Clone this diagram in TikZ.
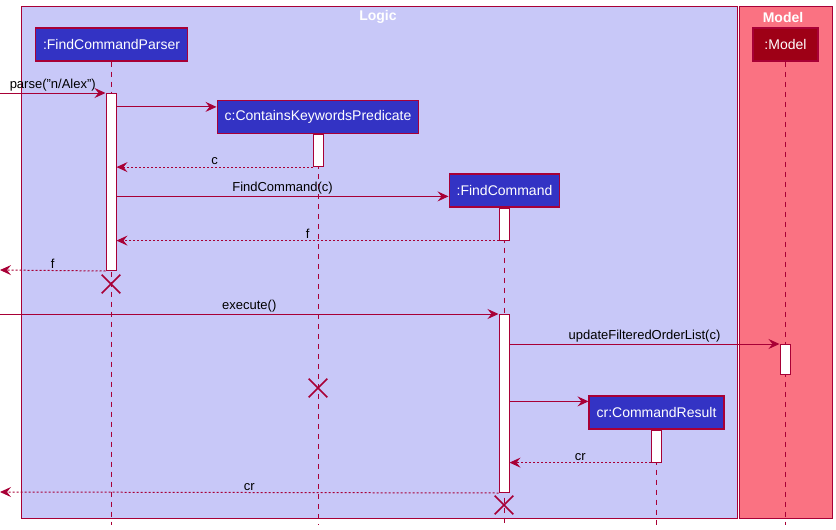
\documentclass[tikz,border=0pt]{standalone}
\usepackage{fontspec}
\setmainfont{Liberation Sans}
\usetikzlibrary{arrows.meta, positioning, shapes.misc}
\definecolor{umlred}{RGB}{168,0,54}
\definecolor{logicbg}{RGB}{200,200,248}
\definecolor{modelbg}{RGB}{250,114,130}
\definecolor{objblue}{RGB}{51,51,196}
\definecolor{objred}{RGB}{158,0,22}
\tikzset{
    frame/.style={draw=umlred, line width=1pt},
    frametitle/.style={text=white, font=\fontsize{14}{16}\selectfont\bfseries, inner sep=0pt},
    obj/.style={draw=umlred, fill=objblue, text=white, line width=1.2pt,
        font=\fontsize{14}{16}\selectfont, minimum height=33pt, inner xsep=7.5pt},
    lifeline/.style={draw=umlred, line width=1pt, dash pattern=on 5pt off 5pt},
    act/.style={draw=umlred, fill=white, line width=1pt, rectangle, anchor=north,
        minimum width=10pt, inner sep=0pt},
    msg/.style={draw=umlred, line width=1pt, -{Stealth[length=11pt, width=10pt, inset=4pt]}},
    ret/.style={msg, dash pattern=on 2pt off 2pt},
    lbl/.style={above, text=black, inner sep=1.5pt, font=\fontsize{13}{15}\selectfont},
    destroy/.style={cross out, draw=umlred, line width=1.6pt, minimum size=17pt, inner sep=0pt}
}
\begin{document}
\begin{tikzpicture}[x=1pt, y=-1pt]
    \useasboundingbox (0,0) rectangle (836,530);
    \coordinate (bottom) at (0,525);
    % boxes
    \filldraw[frame, fill=logicbg] (21,6) rectangle (737,518);
    \filldraw[frame, fill=modelbg] (739,6) rectangle (832,518);
    \node[frametitle] (logicT) at (378,17) {Logic};
    \node[frametitle] (modelT) at (783,17) {Model};
    % participants
    \node[obj] (parser) at (111.5,44.5) {:FindCommandParser};
    \node[obj, fill=objred, minimum width=65pt] (model) at (785.5,44.5) {:Model};
    \node[obj] (pred) at (318,117) {c:ContainsKeywordsPredicate};
    \node[obj] (fc) at (504.5,190.5) {:FindCommand};
    \node[obj] (cr) at (656.5,412.5) {cr:CommandResult};
    \foreach \p in {parser, model, pred, fc, cr}
        \draw[lifeline] (\p.south) -- (\p.south |- bottom);
    % activations
    \node[act, minimum height=177pt] (aP) at (111,93) {};
    \node[act, minimum height=32pt] (aK) at (pred.south) {};
    \node[act, minimum height=32pt] (aF1) at (fc.south) {};
    \node[act, minimum height=178pt] (aF2) at (504,314) {};
    \node[act, minimum height=30pt] (aM) at (785,344) {};
    \node[act, minimum height=32pt] (aR) at (cr.south) {};
    % free ends
    \coordinate (inP) at (0,93);
    \coordinate (outF) at (0,270);
    \coordinate (inE) at (0,314);
    \coordinate (outR) at (0,492);
    \coordinate (mK) at ([yshift=-7pt]pred.north west);
    \coordinate (mF) at ([yshift=-23pt]fc.north west);
    \coordinate (mR) at ([yshift=-6pt]cr.north west);
    % messages
    \draw[msg] (inP) -- node[lbl]{parse("n/Alex")} (aP.north west);
    \draw[msg] (aP.east |- mK) -- (mK);
    \draw[ret] (aK.south west) -- node[lbl]{c} (aP.east |- aK.south);
    \draw[msg] (aP.east |- mF) -- node[lbl]{FindCommand(c)} (mF);
    \draw[ret] (aF1.south west) -- node[lbl]{f} (aP.east |- aF1.south);
    \draw[ret] (aP.south west) -- node[lbl]{f} (outF);
    \node[destroy] (xP) at (111,284) {};
    \draw[msg] (inE) -- node[lbl]{execute()} (aF2.north west);
    \draw[msg] (aF2.north east |- aM.north) -- node[lbl]{updateFilteredOrderList(c)} (aM.north west);
    \node[destroy] (xK) at (318,388) {};
    \draw[msg] (aF2.east |- mR) -- (mR);
    \draw[ret] (aR.south west) -- node[lbl]{cr} (aF2.east |- aR.south);
    \draw[ret] (aF2.south west) -- node[lbl]{cr} (outR);
    \node[destroy] (xF) at (504,505) {};
\end{tikzpicture}
\end{document}
